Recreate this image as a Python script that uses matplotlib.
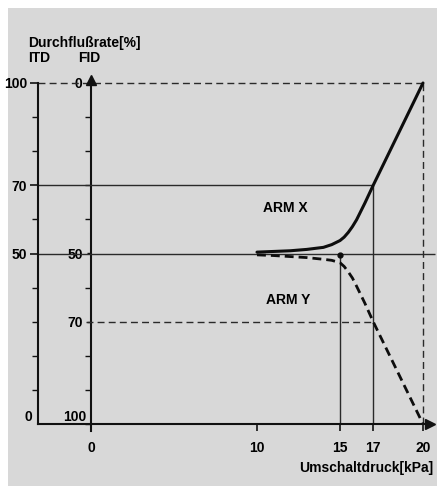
import matplotlib
matplotlib.use("Agg")
import matplotlib.pyplot as plt
from matplotlib.patches import Rectangle

# ---- data ----
pressure_kpa = [10, 11, 12, 13, 14, 14.5, 15, 15.25, 15.5, 15.75, 16, 16.5, 17, 17.5, 18, 19, 20]
arm_x = [50.4, 50.6, 50.8, 51.2, 51.8, 52.6, 53.8, 54.8, 56.2, 57.9, 59.9, 64.8, 70.0, 75.0, 80.0, 90.0, 100]
arm_y = [49.6, 49.4, 49.1, 48.8, 48.3, 48.0, 47.3, 46.2, 44.6, 42.8, 40.4, 35.4, 30.0, 25.0, 20.0, 10.0, 0]
switch_point = (15, 49.6)

x_ticks = [0, 10, 15, 17, 20]
x_ticklabels = ["0", "10", "15", "17", "20"]
itd_ticks = [50, 70, 100]
itd_labels = ["50", "70", "100"]
itd_minor = [10, 20, 30, 40, 60, 80, 90]
fid_ticks = [30, 50, 100]
fid_labels = ["70", "50", "0"]
fid_minor = [0, 10, 20, 40, 60, 70, 80, 90]

# ---- style ----
BG = "#d8d8d8"
FONT = ["Liberation Sans Narrow", "Liberation Sans", "DejaVu Sans"]
plt.rcParams["font.family"] = FONT
plt.rcParams["font.weight"] = "bold"
FS = 10

W, H = 440, 492
fig = plt.figure(figsize=(W / 100, H / 100), dpi=100)
fig.patch.set_facecolor("white")
fig.patches.append(Rectangle((8 / W, 1 - 486 / H), (437 - 8) / W, (486 - 8) / H,
                             transform=fig.transFigure, fc=BG, ec="none", zorder=-10))

# pixel geometry
px_x0, px_unit_x = 91, 16.6
px_y0, px_unit_y = 424, 3.41
left_px, right_px, top_px = 38, 437, 72
ax = fig.add_axes([left_px / W, (H - px_y0) / H, (right_px - left_px) / W, (px_y0 - top_px) / H])
ax.set_facecolor("none")
xl = ((left_px - px_x0) / px_unit_x, (right_px - px_x0) / px_unit_x)
ax.set_xlim(*xl)
ax.set_ylim(0, (px_y0 - top_px) / px_unit_y)

for s in ("top", "right"):
    ax.spines[s].set_visible(False)
for s in ("left", "bottom"):
    ax.spines[s].set_linewidth(1.5)
    ax.spines[s].set_color("#111111")
ax.spines["left"].set_bounds(0, 100)
ax.spines["bottom"].set_bounds(xl[0], 20.5)
ax.plot(20.45, 0, marker=">", ms=7, color="#111111", clip_on=False, zorder=5)

# x axis ticks
ax.set_xticks(x_ticks, x_ticklabels, fontsize=FS)
ax.tick_params(axis="x", length=5, width=1.2, pad=7, color="#111111")

# ITD axis (left spine)
ax.set_yticks(itd_ticks, itd_labels, fontsize=FS)
ax.set_yticks(itd_minor, minor=True)
ax.tick_params(axis="y", which="major", length=6, width=1.2, pad=2, color="#111111")
ax.tick_params(axis="y", which="minor", length=4, width=1.0, color="#111111")
ax.annotate("0", (xl[0], 0), xytext=(-4, 5), textcoords="offset points",
            ha="right", va="center", fontsize=FS)

# FID axis (secondary at data x = 0)
loc = (0 - xl[0]) / (xl[1] - xl[0])
sec = ax.secondary_yaxis(loc)
sec.spines["left"].set_linewidth(1.5)
sec.spines["left"].set_color("#111111")
sec.spines["left"].set_bounds(-2, 101)
sec.set_yticks(fid_ticks, fid_labels, fontsize=FS,
               bbox=dict(fc=BG, ec="none", pad=1.0))
sec.set_yticks(fid_minor, minor=True)
sec.tick_params(axis="y", which="major", length=3, width=1.0, pad=3, color="#111111")
sec.tick_params(axis="y", which="minor", length=4, width=1.0, color="#111111")
ax.plot(0, 101, marker="^", ms=7, color="#111111", clip_on=False, zorder=5)
ax.annotate("100", (0, 0), xytext=(-3, 5), textcoords="offset points",
            ha="right", va="center", fontsize=FS)

# reference lines
ref = dict(color="#2a2a2a", lw=1.0, zorder=1)
ax.hlines(70, xl[0], 17, **ref)
ax.hlines(50, xl[0], 20.7, clip_on=False, **ref)
ax.hlines(100, xl[0], 20, linestyles=(0, (5, 3)), **ref)
ax.hlines(30, -0.3, 17, linestyles=(0, (5, 3)), clip_on=False, **ref)
ax.vlines(15, 0, 50, **ref)
ax.vlines(17, 0, 70, **ref)
ax.vlines(20, 0, 100, linestyles=(0, (5, 3)), **ref)

# curves
ax.plot(pressure_kpa, arm_x, color="#0d0d0d", lw=2.2, solid_capstyle="round", zorder=4)
ax.plot(pressure_kpa, arm_y, color="#0d0d0d", lw=2.0, dashes=(3.2, 1.8), zorder=4)
ax.plot(*switch_point, marker="o", ms=3.5, color="#0d0d0d", zorder=5)

ax.text(11.7, 63.3, "ARM X", ha="center", va="center", fontsize=FS)
ax.text(11.85, 36.4, "ARM Y", ha="center", va="center", fontsize=FS)

# headers
fig.text(28 / W, 1 - 43 / H, "Durchflußrate[%]", ha="left", va="center", fontsize=FS)
fig.text(28 / W, 1 - 58 / H, "ITD", ha="left", va="center", fontsize=FS)
fig.text(78 / W, 1 - 58 / H, "FID", ha="left", va="center", fontsize=FS)
fig.text(433 / W, 1 - 468 / H, "Umschaltdruck[kPa]", ha="right", va="center", fontsize=FS)

fig.savefig("out.png", dpi=100, facecolor="white")
